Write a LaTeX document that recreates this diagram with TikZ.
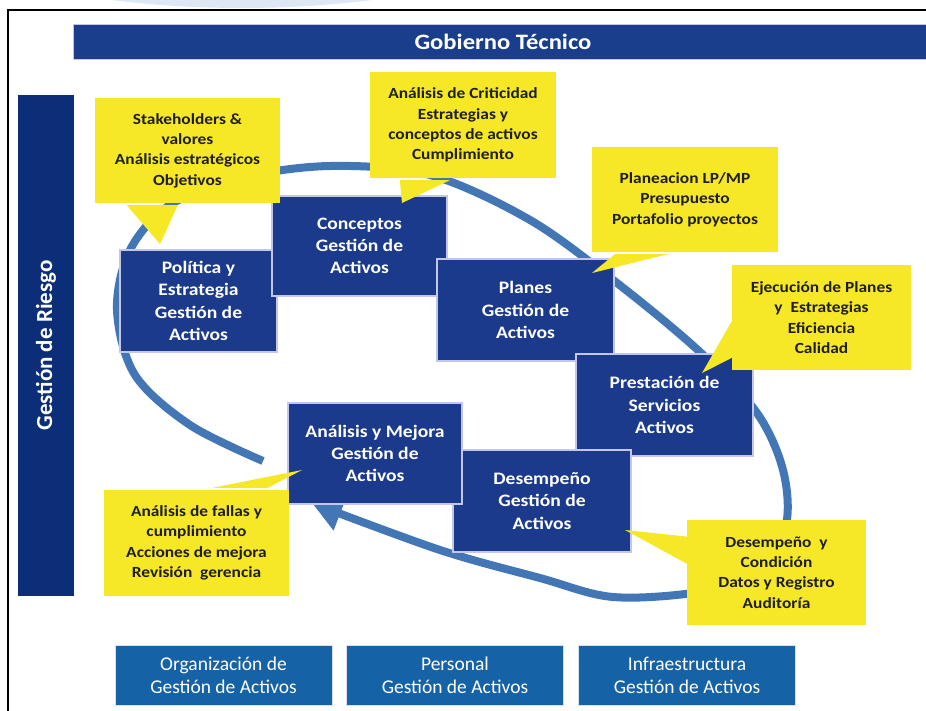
\documentclass[tikz,border=0pt]{standalone}
\usepackage{fontspec}
\setmainfont{Carlito}[FakeStretch=1.12]
\newfontfamily\plainfont{Carlito}
\usetikzlibrary{arrows.meta,calc}
\definecolor{gobblue}{RGB}{27,62,140}
\definecolor{boxblue}{RGB}{27,58,140}
\definecolor{riskblue}{RGB}{12,46,120}
\definecolor{botblue}{RGB}{22,98,166}
\definecolor{callyel}{RGB}{246,232,38}
\definecolor{loopblue}{RGB}{66,118,180}
\definecolor{edgelav}{RGB}{196,198,232}
\definecolor{fadeblue}{RGB}{222,232,245}
\definecolor{calltext}{RGB}{30,30,30}
\begin{document}
\begin{tikzpicture}[x=1pt,y=-1pt,
  mainbox/.style={fill=boxblue, draw=edgelav, line width=1.2pt, text=white,
    font=\bfseries\fontsize{17.5}{22.3}\selectfont, align=center, inner sep=0pt},
  botbox/.style={fill=botblue, draw=edgelav!60!white, line width=1pt, text=white,
    font=\plainfont\fontsize{19.5}{23}\selectfont, align=center,
    minimum width=217pt, minimum height=60pt, inner sep=0pt},
  callbox/.style={fill=callyel, text=calltext,
    font=\bfseries\fontsize{15.5}{20.3}\selectfont, align=center, inner sep=0pt},
  pointer/.style={fill=callyel},
  loop/.style={draw=loopblue, line width=8pt,
    -{Triangle[length=30pt,width=34pt]}}
]
\useasboundingbox (0,0) rectangle (926,710);
\clip (0,0) rectangle (926,710);
\fill[white] (0,0) rectangle (926,710);
\fill[fadeblue] (242,-91) ellipse [x radius=330, y radius=99];
\draw[line width=2.2pt] (8,712) -- (8,10) -- (928,10);

% top and side bars
\node[fill=gobblue, draw=edgelav, line width=1pt, minimum width=860pt, minimum height=35pt,
  inner sep=0pt, text=white, font=\bfseries\fontsize{22}{26}\selectfont]
  (gob) at (503,41.5) {Gobierno Técnico};
\node[fill=riskblue, minimum width=56pt, minimum height=501pt, inner sep=0pt] (risk) at (46,345.5) {};
\node[rotate=90, text=white, font=\plainfont\bfseries\fontsize{23}{26}\selectfont] (risktxt) at (46,345.5) {Gestión de Riesgo};

% loop arrow
\draw[loop] plot[smooth, tension=0.55] coordinates {
  (263,461) (190,425) (135,375) (117,310) (130,250) (170,205) (240,178)
  (330,166) (430,175) (530,220) (617,283) (700,352) (757,413) (783,470)
  (786,525) (760,574) (700,592) (613,597) (540,578) (440,550) (312,503)};

% main boxes
\node[mainbox, minimum width=157pt, minimum height=102pt] (pol) at (198.5,301) {Política y\\Estrategia\\Gestión de\\Activos};
\node[mainbox, minimum width=175pt, minimum height=100pt] (con) at (359.5,246) {Conceptos\\Gestión de\\Activos};
\node[mainbox, minimum width=177pt, minimum height=102pt] (pla) at (525.5,310) {Planes\\Gestión de\\Activos};
\node[mainbox, minimum width=177pt, minimum height=102pt] (pre) at (664.5,405) {Prestación de\\Servicios\\Activos};
\node[mainbox, minimum width=178pt, minimum height=102pt] (des) at (542,501) {Desempeño\\Gestión de\\Activos};
\node[mainbox, minimum width=174pt, minimum height=101pt] (ana) at (375,453.5) {Análisis y Mejora\\Gestión de\\Activos};

% callouts
\coordinate (t1) at (160,244);
\coordinate (t2) at (402,203);
\coordinate (t3) at (592,273);
\coordinate (t4) at (702,373);
\coordinate (t5) at (302,470);
\coordinate (t6) at (625,530);

\node[callbox, minimum width=185pt, minimum height=105pt] (c1) at (187.5,150.5) {Stakeholders \&\\valores\\Análisis estratégicos\\Objetivos};
\fill[pointer] ($(c1.south west)+(32,2)$) -- (t1) -- ($(c1.south west)+(83,2)$) -- cycle;

\node[callbox, minimum width=186pt, minimum height=106pt] (c2) at (463,125) {Análisis de Criticidad\\Estrategias y\\conceptos de activos\\Cumplimiento};
\fill[pointer] ($(c2.south west)+(30,2)$) -- (t2) -- ($(c2.south west)+(80,2)$) -- cycle;

\node[callbox, minimum width=186pt, minimum height=105pt] (c3) at (685,199.5) {Planeacion LP/MP\\Presupuesto\\Portafolio proyectos};
\fill[pointer] ($(c3.south west)+(23,2)$) -- (t3) -- ($(c3.south west)+(76,2)$) -- cycle;

\node[callbox, minimum width=179pt, minimum height=105pt] (c4) at (821.5,317.5) {Ejecución de Planes\\y~~Estrategias\\Eficiencia\\Calidad};
\fill[pointer] ($(c4.north west)+(2,53)$) -- (t4) -- ($(c4.north west)+(2,92)$) -- cycle;

\node[callbox, minimum width=185pt, minimum height=106pt] (c5) at (196.5,543) {Análisis de fallas y\\cumplimiento\\Acciones de mejora\\Revisión~~gerencia};
\fill[pointer] ($(c5.north west)+(109,-2)$) -- (t5) -- ($(c5.north west)+(164,-2)$) -- cycle;

\node[callbox, minimum width=179pt, minimum height=105pt] (c6) at (776.5,572.5) {Desempeño~~y\\Condición\\Datos y Registro\\Auditoría};
\fill[pointer] ($(c6.north west)+(2,17)$) -- (t6) -- ($(c6.north west)+(2,45)$) -- cycle;

% bottom boxes
\node[botbox] (org) at (223.5,675) {Organización de\\Gestión de Activos};
\node[botbox] (per) at (455,675) {Personal\\Gestión de Activos};
\node[botbox] (inf) at (687,675) {Infraestructura\\Gestión de Activos};
\end{tikzpicture}
\end{document}
